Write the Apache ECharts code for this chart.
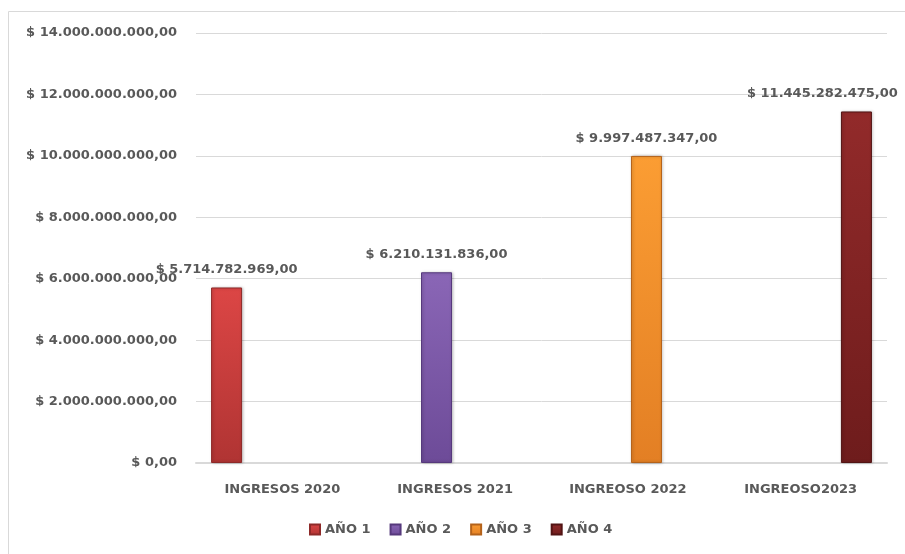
<!DOCTYPE html>
<html>
<head>
<meta charset="utf-8">
<script src="https://cdn.jsdelivr.net/npm/echarts@6/dist/echarts.min.js"></script>
<style>
html,body{margin:0;padding:0;background:#fff;}
#chart{width:905px;height:554px;}
</style>
</head>
<body>
<div id="chart"></div>
<script>
const categories = ['INGRESOS 2020', 'INGRESOS 2021', 'INGREOSO 2022', 'INGREOSO2023'];
const seriesNames = ['AÑO 1', 'AÑO 2', 'AÑO 3', 'AÑO 4'];
const ano1 = [5714782969, '-', '-', '-'];
const ano2 = ['-', 6210131836, '-', '-'];
const ano3 = ['-', '-', 9997487347, '-'];
const ano4 = ['-', '-', '-', 11445282475];
const yTicks = [0, 2000000000, 4000000000, 6000000000, 8000000000, 10000000000, 12000000000, 14000000000];

const colors = [
  ['#dc4645', '#b03433', '#8e2a29'],
  ['#8a66b6', '#6d4b98', '#56397c'],
  ['#fb9d33', '#e37f24', '#b4621a'],
  ['#922a2a', '#6e1c1c', '#521414']
];
const labelShift = [0, 0, 0, -34];

function fmt(v) {
  const s = Math.round(v).toString().replace(/\B(?=(\d{3})+(?!\d))/g, '.');
  return '$ ' + s + ',00';
}

const FONT = 'DejaVu Sans';
const TXT = '#595959';

const chart = echarts.init(document.getElementById('chart'));
const datas = [ano1, ano2, ano3, ano4];
const series = datas.map((d, i) => ({
  name: seriesNames[i],
  type: 'bar',
  data: d,
  barWidth: 31,
  barGap: '20%',
  itemStyle: {
    color: new echarts.graphic.LinearGradient(0, 0, 0, 1, [
      {offset: 0, color: colors[i][0]},
      {offset: 1, color: colors[i][1]}
    ]),
    borderColor: colors[i][2],
    borderWidth: 1,
    shadowColor: 'rgba(0,0,0,0.25)',
    shadowBlur: 3,
    shadowOffsetX: 1
  },
  label: {
    show: true,
    position: 'top',
    distance: 11,
    offset: [labelShift[i], 0],
    formatter: p => fmt(p.value),
    fontFamily: FONT,
    fontWeight: 'bold',
    fontSize: 13,
    color: TXT
  }
}));

chart.setOption({
  animation: false,
  color: colors.map(c => c[1]),
  graphic: [{
    type: 'rect',
    shape: {x: 8.5, y: 11.5, width: 1000, height: 1000},
    style: {fill: 'none', stroke: '#d9d9d9', lineWidth: 1},
    silent: true,
    z: -10
  }],
  grid: {left: 196, right: 18, top: 33, bottom: 91, containLabel: false},
  legend: {
    data: seriesNames,
    left: 304,
    top: 518,
    icon: 'rect',
    itemWidth: 10,
    itemHeight: 10,
    itemGap: 19,
    textStyle: {fontFamily: FONT, fontWeight: 'bold', fontSize: 13, color: TXT}
  },
  xAxis: {
    type: 'category',
    data: categories,
    axisLine: {lineStyle: {color: '#d9d9d9', width: 2}},
    axisTick: {show: false},
    axisLabel: {fontFamily: FONT, fontWeight: 'bold', fontSize: 13, color: TXT, margin: 20}
  },
  yAxis: {
    type: 'value',
    min: yTicks[0],
    max: yTicks[yTicks.length - 1],
    interval: yTicks[1] - yTicks[0],
    axisLine: {show: false},
    axisTick: {show: false},
    splitLine: {lineStyle: {color: '#d9d9d9'}},
    axisLabel: {
      fontFamily: FONT, fontWeight: 'bold', fontSize: 13, color: TXT, margin: 19,
      formatter: v => fmt(v)
    }
  },
  series: series
});
</script>
</body>
</html>
